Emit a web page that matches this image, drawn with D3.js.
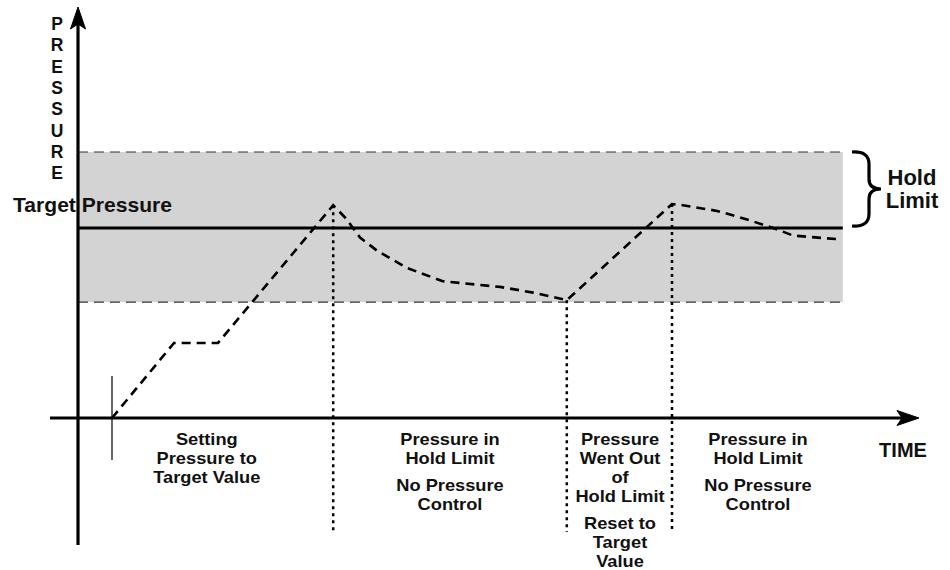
<!DOCTYPE html>
<html>
<head>
<meta charset="utf-8">
<script src="https://cdn.jsdelivr.net/npm/d3@7"></script>
<style>
  html, body { margin: 0; padding: 0; background: #fff; }
  svg text { font-family: "Liberation Sans", Arial, Helvetica, sans-serif; font-weight: bold; fill: #111; }
</style>
</head>
<body>
<svg id="chart" width="950" height="570"></svg>
<script>
// ---- data ----
const timeValues     = [4.25, 12, 17.5, 31.9, 33.5, 35.25, 37.4, 41.1, 45.6, 52.75, 56.9, 61.1, 74.25, 75.6, 79.9, 84, 86.9, 89.4, 95.25];
const pressureValues = [0, 39.5, 39.5, 112, 105, 95, 88, 79, 72, 69, 66, 62, 112.6, 112, 109, 104, 100, 96, 94];
const targetPressure = 100;
const holdLimitUpper = 140;
const holdLimitLower = 61;
const bandEndTime = 95.6;
const startTime = 4.25;
const phaseBoundaries = [31.9, 61.1, 74.25];
const axisLabelY = "PRESSURE";
const axisLabelX = "TIME";
const phaseLabels = [
  { t: 16.1, lines: [["Setting", 0], ["Pressure to", 1], ["Target Value", 2]] },
  { t: 46.5, lines: [["Pressure in", 0], ["Hold Limit", 1], ["No Pressure", 2.4], ["Control", 3.4]] },
  { t: 67.75, lines: [["Pressure", 0], ["Went Out", 1], ["of", 2], ["Hold Limit", 3], ["Reset to", 4.4], ["Target", 5.4], ["Value", 6.4]] },
  { t: 85, lines: [["Pressure in", 0], ["Hold Limit", 1], ["No Pressure", 2.4], ["Control", 3.4]] }
];

// ---- scales ----
const x = d3.scaleLinear().domain([0, 100]).range([78, 878]);
const y = d3.scaleLinear().domain([0, 100]).range([418, 228]);

const svg = d3.select("#chart");

// hold band
svg.append("rect")
  .attr("x", x(0)).attr("y", y(holdLimitUpper))
  .attr("width", x(bandEndTime) - x(0))
  .attr("height", y(holdLimitLower) - y(holdLimitUpper))
  .attr("fill", "#d3d3d3");

[holdLimitUpper, holdLimitLower].forEach(v => {
  svg.append("line")
    .attr("x1", x(0)).attr("x2", x(bandEndTime))
    .attr("y1", y(v)).attr("y2", y(v))
    .attr("stroke", "#333").attr("stroke-width", 1.2)
    .attr("stroke-dasharray", "10,6");
});

// target line
svg.append("line")
  .attr("x1", x(0)).attr("x2", x(bandEndTime))
  .attr("y1", y(targetPressure)).attr("y2", y(targetPressure))
  .attr("stroke", "#000").attr("stroke-width", 3);

// phase boundary dotted lines
const boundaryTop = t => y(pressureValues[timeValues.indexOf(t)]);
phaseBoundaries.forEach(t => {
  svg.append("line")
    .attr("x1", x(t)).attr("x2", x(t))
    .attr("y1", boundaryTop(t)).attr("y2", 532)
    .attr("stroke", "#000").attr("stroke-width", 2.5)
    .attr("stroke-dasharray", "3,4");
});

// start tick
svg.append("line")
  .attr("x1", x(startTime)).attr("x2", x(startTime))
  .attr("y1", 376).attr("y2", 460)
  .attr("stroke", "#000").attr("stroke-width", 1.2);

// pressure curve
const line = d3.line().x((d, i) => x(timeValues[i])).y(d => y(d)).curve(d3.curveLinear);
svg.append("path")
  .datum(pressureValues)
  .attr("d", line)
  .attr("fill", "none").attr("stroke", "#000").attr("stroke-width", 2.6)
  .attr("stroke-dasharray", "9,6");

// axes
svg.append("line")
  .attr("x1", 50).attr("x2", x(104))
  .attr("y1", y(0)).attr("y2", y(0))
  .attr("stroke", "#000").attr("stroke-width", 3.2);
svg.append("line")
  .attr("x1", x(0)).attr("x2", x(0))
  .attr("y1", 545).attr("y2", 20)
  .attr("stroke", "#000").attr("stroke-width", 3.2);

// arrowheads
const ax = x(0);
svg.append("path")
  .attr("d", `M${ax},7 L${ax + 7.5},29 L${ax},24 L${ax - 7.5},29 Z`)
  .attr("fill", "#000").attr("stroke", "#000").attr("stroke-width", 1);
const tipX = x(104) + 9;
svg.append("path")
  .attr("d", `M${tipX},${y(0)} L${tipX - 22},${y(0) - 7.5} L${tipX - 17},${y(0)} L${tipX - 22},${y(0) + 7.5} Z`)
  .attr("fill", "#000").attr("stroke", "#000").attr("stroke-width", 1);

// y axis label, vertical stacked letters
axisLabelY.split("").forEach((ch, i) => {
  svg.append("text")
    .attr("x", 57).attr("y", 30 + i * 21.3)
    .attr("text-anchor", "middle")
    .attr("font-size", 17.5)
    .text(ch);
});

// target pressure label
svg.append("text")
  .attr("x", 13).attr("y", 212)
  .attr("font-size", 21)
  .attr("textLength", 159).attr("lengthAdjust", "spacingAndGlyphs")
  .text("Target Pressure");

// brace
const bx = 852, by0 = y(holdLimitUpper), by1 = y(targetPressure) - 2, bm = (by0 + by1) / 2;
svg.append("path")
  .attr("d", `M${bx},${by0} Q${bx + 17},${by0 - 1} ${bx + 17},${by0 + 12}
              L${bx + 17},${bm - 10} Q${bx + 17},${bm} ${bx + 29},${bm}
              Q${bx + 17},${bm} ${bx + 17},${bm + 10}
              L${bx + 17},${by1 - 12} Q${bx + 17},${by1 + 1} ${bx},${by1}`)
  .attr("fill", "none").attr("stroke", "#000").attr("stroke-width", 3.2);

svg.append("text").attr("x", 912).attr("y", 185).attr("text-anchor", "middle").attr("font-size", 22).text("Hold");
svg.append("text").attr("x", 912).attr("y", 208).attr("text-anchor", "middle").attr("font-size", 22).text("Limit");

// x axis label
svg.append("text").attr("x", 903).attr("y", 457).attr("text-anchor", "middle").attr("font-size", 20).text(axisLabelX);

// phase labels (slightly widened glyphs, tight line spacing as in the reference)
phaseLabels.forEach(p => {
  p.lines.forEach(([txt, k]) => {
    svg.append("text")
      .attr("transform", `translate(${x(p.t)},${445 + k * 19}) scale(1.12,1)`)
      .attr("text-anchor", "middle")
      .attr("font-size", 16.3)
      .text(txt);
  });
});
</script>
</body>
</html>
